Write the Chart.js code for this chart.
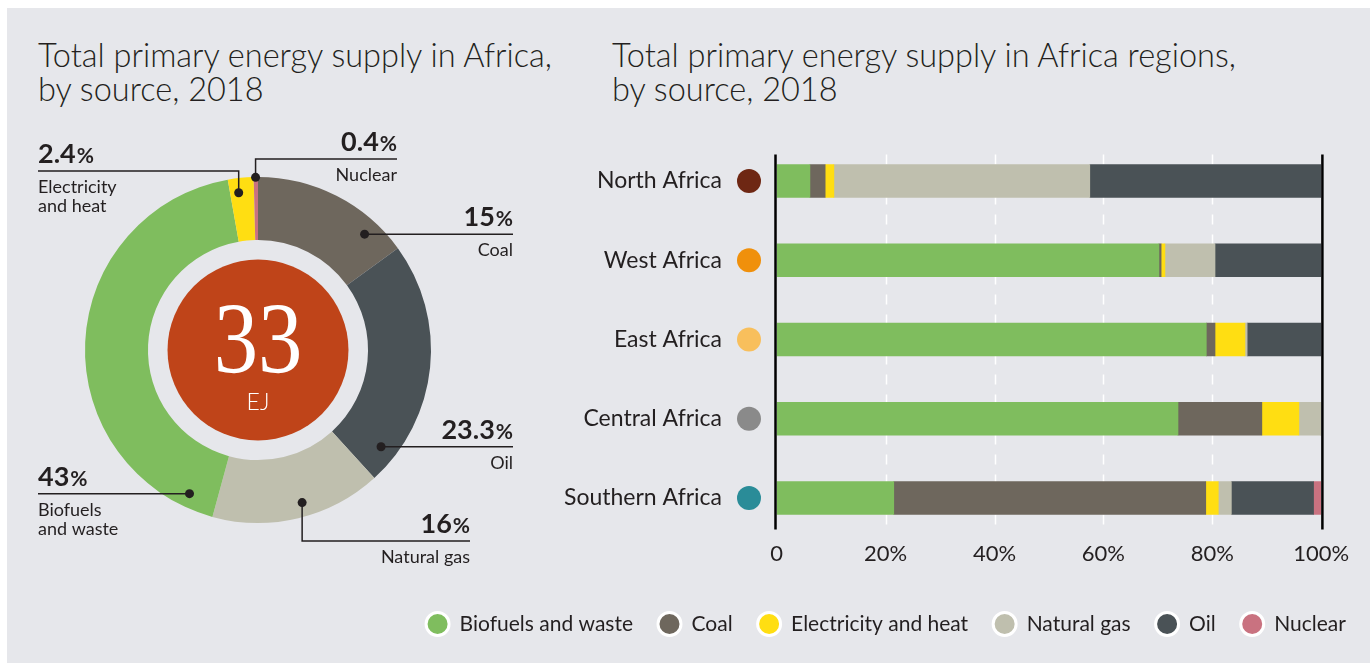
<!DOCTYPE html>
<html><head><meta charset="utf-8">
<script src="https://cdn.jsdelivr.net/npm/chart.js@4.4.0/dist/chart.umd.min.js"></script>
<style>
html,body{margin:0;padding:0;background:#fff;width:1370px;height:663px;overflow:hidden;position:relative;}
#panel{position:absolute;left:7px;top:8px;width:1363px;height:655px;background:#e6e7eb;}
.title{position:absolute;font-family:Lato,sans-serif;font-weight:300;font-size:32.5px;line-height:34px;color:#231f20;white-space:nowrap;}
#donutWrap{position:absolute;left:0;top:0;width:570px;height:663px;}
#barWrap{position:absolute;left:386px;top:0;width:1000px;height:663px;}
</style></head><body>
<div id="panel"></div>
<div class="title" style="left:38px;top:38px">Total primary energy supply in Africa,<br>by source, 2018</div>
<div class="title" style="left:612px;top:38px">Total primary energy supply in Africa regions,<br>by source, 2018</div>
<div id="donutWrap"><canvas id="donut"></canvas></div>
<div id="barWrap"><canvas id="bar"></canvas></div>
<script>
// ---------- data ----------
const sources = ['Biofuels and waste','Coal','Electricity and heat','Natural gas','Oil','Nuclear'];
const sourceColors = ['#7fbd5e','#6e675d','#ffde12','#bfbfae','#4a5256','#c97280'];

const donutLabels = ['Coal','Oil','Natural gas','Biofuels and waste','Electricity and heat','Nuclear'];
const donutValues = [15, 23.3, 16, 43, 2.4, 0.4];
const donutColors = ['#6e675d','#4a5256','#bfbfae','#7fbd5e','#ffde12','#c97280'];
const totalSupply = '33';
const totalUnit = 'EJ';

const regions = ['North Africa','West Africa','East Africa','Central Africa','Southern Africa'];
const regionColors = ['#6e2713','#f0900b','#f8bf5c','#8a8a8a','#2a8c98'];
const biofuels    = [6.1, 70.2, 78.9, 73.7, 21.5];
const coal        = [2.8, 0.4, 1.6, 15.4, 57.3];
const electricity = [1.6, 0.7, 5.5, 6.8, 2.3];
const naturalGas  = [47.0, 9.2, 0.4, 4.1, 2.4];
const oil         = [42.5, 19.5, 13.6, 0, 15.1];
const nuclear     = [0, 0, 0, 0, 1.3];
const xTicks = [0, 20, 40, 60, 80, 100];

// ---------- styles ----------
const TXT = '#231f20';
const FONT = 'Lato, "Open Sans", sans-serif';

// donut callout layout (positions of annotation texts)
const callouts = [
  {i:0, frac:0.79,  rf:0.91,  type:'h',     align:'right', tx:513, lines:['Coal']},
  {i:1, frac:0.886, rf:0.905, type:'h',     align:'right', tx:513, lines:['Oil']},
  {i:2, frac:0.454, rf:0.918, type:'elbow', align:'right', tx:470, ly:541, lines:['Natural gas']},
  {i:3, frac:0.066, rf:0.92,  type:'h',     align:'left',  tx:38,  lines:['Biofuels','and waste']},
  {i:4, frac:0.356, rf:0.916, type:'elbow', align:'left',  tx:38,  ly:171, lines:['Electricity','and heat']},
  {i:5, frac:0.44,  rf:0.998, type:'elbow', align:'right', tx:397, ly:159, lines:['Nuclear']}
];

const donutDecor = {
  id:'donutDecor',
  afterDatasetsDraw(chart){
    const ctx = chart.ctx;
    const meta = chart.getDatasetMeta(0);
    const arc0 = meta.data[0];
    const cx = arc0.x, cy = arc0.y, R = arc0.outerRadius;
    ctx.save();
    // center disc
    ctx.fillStyle = '#bf4419';
    ctx.beginPath(); ctx.arc(cx, cy, R*0.523, 0, Math.PI*2); ctx.fill();
    ctx.fillStyle = '#fff';
    ctx.textAlign = 'center'; ctx.textBaseline = 'alphabetic';
    ctx.save();
    ctx.translate(cx, cy + 23);
    ctx.scale(0.87, 1);
    ctx.font = '102px "Liberation Serif", "DejaVu Serif", serif';
    ctx.fillText(totalSupply, 0, 0);
    ctx.restore();
    ctx.font = '300 23px ' + FONT;
    ctx.fillText(totalUnit, cx, cy + 60);

    // callouts
    callouts.forEach(c => {
      const el = meta.data[c.i];
      const a = el.startAngle + c.frac*(el.endAngle - el.startAngle);
      const dx = el.x + Math.cos(a)*el.outerRadius*c.rf;
      const dy = el.y + Math.sin(a)*el.outerRadius*c.rf;
      const ly = c.type === 'h' ? dy : c.ly;
      ctx.strokeStyle = TXT; ctx.lineWidth = 1.5;
      ctx.beginPath();
      if (c.type === 'elbow') { ctx.moveTo(dx, dy); ctx.lineTo(dx, ly); ctx.lineTo(c.tx, ly); }
      else { ctx.moveTo(dx, ly); ctx.lineTo(c.tx, ly); }
      ctx.stroke();
      ctx.fillStyle = TXT;
      ctx.beginPath(); ctx.arc(dx, dy, 4.5, 0, Math.PI*2); ctx.fill();
      // percentage
      const num = String(donutValues[c.i]);
      ctx.textBaseline = 'alphabetic';
      ctx.font = '700 27px ' + FONT;
      const wNum = ctx.measureText(num).width;
      ctx.font = '700 21px ' + FONT;
      const wPct = ctx.measureText('%').width;
      const left = c.align === 'left' ? c.tx : c.tx - wNum - wPct - 1;
      ctx.textAlign = 'left';
      ctx.font = '700 27px ' + FONT;
      ctx.fillText(num, left, ly - 8);
      ctx.font = '700 21px ' + FONT;
      ctx.fillText('%', left + wNum + 1, ly - 8);
      // label lines
      ctx.font = '400 18px ' + FONT;
      ctx.textAlign = c.align;
      c.lines.forEach((t, k) => ctx.fillText(t, c.tx, ly + 22 + k*19));
    });
    ctx.restore();
  }
};

new Chart(document.getElementById('donut'), {
  type: 'doughnut',
  data: { labels: donutLabels, datasets: [{ data: donutValues, backgroundColor: donutColors, borderWidth: 0 }] },
  options: {
    responsive: true, maintainAspectRatio: false, animation: false,
    cutout: '63.6%',
    layout: { padding: { left: 85, right: 139, top: 177, bottom: 140 } },
    plugins: { legend: { display: false }, tooltip: { enabled: false } }
  },
  plugins: [donutDecor]
});

// ---------- bar chart ----------
const barDecor = {
  id:'barDecor',
  beforeDatasetsDraw(chart){
    const {ctx, chartArea:a, scales:{x}} = chart;
    const top = a.top + 13, bot = a.bottom - 8;
    ctx.save();
    ctx.strokeStyle = '#ffffff'; ctx.lineWidth = 1.5; ctx.setLineDash([10, 10]);
    xTicks.slice(1, -1).forEach(v => {
      const px = Math.round(x.getPixelForValue(v)) + 0.5;
      ctx.beginPath(); ctx.moveTo(px, top); ctx.lineTo(px, bot); ctx.stroke();
    });
    ctx.restore();
  },
  afterDatasetsDraw(chart){
    const {ctx, chartArea:a, scales:{x, y}} = chart;
    const top = a.top + 13, bot = a.bottom - 8;
    ctx.save();
    ctx.strokeStyle = '#000'; ctx.lineWidth = 2.5;
    [[xTicks[0], -1.2], [xTicks[xTicks.length-1], 1.2]].forEach(([v, off]) => {
      const px = x.getPixelForValue(v) + off;
      ctx.beginPath(); ctx.moveTo(px, top); ctx.lineTo(px, bot); ctx.stroke();
    });
    regions.forEach((r, i) => {
      ctx.fillStyle = regionColors[i];
      ctx.beginPath(); ctx.arc(a.left - 27.7, y.getPixelForValue(i), 12, 0, Math.PI*2); ctx.fill();
    });
    ctx.restore();
  }
};

const seriesList = [biofuels, coal, electricity, naturalGas, oil, nuclear];
new Chart(document.getElementById('bar'), {
  type: 'bar',
  data: {
    labels: regions,
    datasets: sources.map((s, k) => ({
      label: s, data: seriesList[k], backgroundColor: sourceColors[k],
      borderWidth: 0, barThickness: 33
    }))
  },
  options: {
    indexAxis: 'y', responsive: true, maintainAspectRatio: false, animation: false,
    layout: { padding: { left: 0, right: 0, top: 141.4, bottom: 18.5 } },
    scales: {
      x: {
        stacked: true, min: 0, max: 100,
        afterBuildTicks: s => { s.ticks = xTicks.map(v => ({ value: v })); },
        grid: { display: false, drawTicks: false }, border: { display: false },
        ticks: { padding: 3, color: TXT, font: { family: FONT, size: 22 },
                 maxRotation: 0, callback: v => v === 0 ? '0' : v + '%' },
        afterFit: s => { s.height = 50.9; }
      },
      y: {
        stacked: true,
        grid: { display: false, drawTicks: false }, border: { display: false },
        ticks: { padding: 54.7, color: TXT, font: { family: FONT, size: 23 } },
        afterFit: s => { s.width = 390.7; }
      },
      yRight: {
        type: 'category', position: 'right', display: true,
        grid: { display: false, drawTicks: false }, border: { display: false },
        ticks: { display: false },
        afterFit: s => { s.width = 64.8; }
      }
    },
    plugins: {
      tooltip: { enabled: false },
      legend: {
        position: 'bottom',
        labels: {
          usePointStyle: true, pointStyle: 'circle', pointStyleWidth: 23, boxHeight: 16.3,
          padding: 25, color: TXT, font: { family: FONT, size: 21 },
          generateLabels: chart => Chart.defaults.plugins.legend.labels.generateLabels(chart)
            .map(l => Object.assign(l, { strokeStyle: '#ffffff', lineWidth: 3 }))
        }
      }
    }
  },
  plugins: [barDecor]
});
</script>
</body></html>
